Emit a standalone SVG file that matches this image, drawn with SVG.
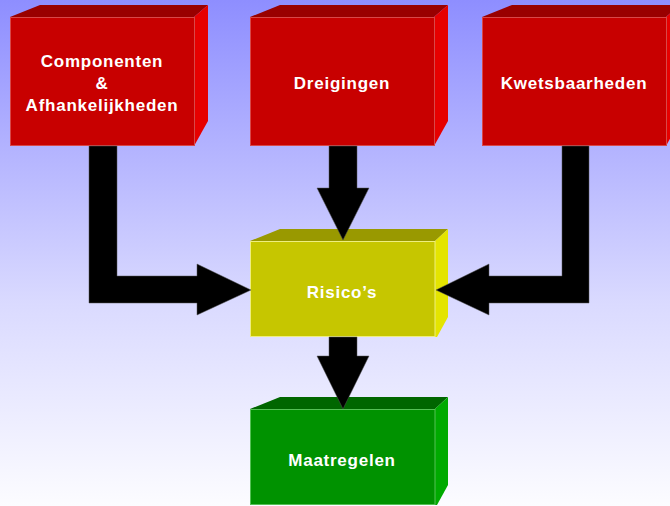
<svg xmlns="http://www.w3.org/2000/svg" width="670" height="506" viewBox="0 0 670 506">
  <defs>
    <linearGradient id="bg" x1="0" y1="0" x2="0" y2="1">
      <stop offset="0" stop-color="#8e8eff"/>
      <stop offset="0.6" stop-color="#dadaff"/>
      <stop offset="1" stop-color="#fcfcff"/>
    </linearGradient>
  </defs>
  <style>
    .lbl { font-family: "Liberation Sans", Arial, sans-serif; font-weight: bold; font-size: 17px; letter-spacing: 0.75px; fill: #ffffff; text-anchor: middle; }
    .red .front { fill: #c80000; stroke: #d84848; stroke-width: 1; }
    .red .top { fill: #990000; }
    .red .side { fill: #e60000; }
    .yel .front { fill: #c6c600; stroke: #eeee80; stroke-width: 1; }
    .yel .top { fill: #999900; }
    .yel .side { fill: #e4e400; }
    .grn .front { fill: #009200; stroke: #55c055; stroke-width: 1; }
    .grn .top { fill: #006600; }
    .grn .side { fill: #00aa00; }
    .arrow { fill: #000000; stroke: #555555; stroke-width: 0.5; }
  </style>

  <rect x="0" y="0" width="670" height="506" fill="url(#bg)"/>

  <!-- Top row -->
  <g id="componenten" class="red">
    <polygon class="top" points="10,17 40,5 208,5 194,17"/>
    <polygon class="side" points="194,17 208,5 208,121 194,146"/>
    <rect class="front" x="10.5" y="17.5" width="184" height="128"/>
    <text class="lbl" x="102" y="67">Componenten</text>
    <text class="lbl" x="102" y="89">&amp;</text>
    <text class="lbl" x="102" y="111">Afhankelijkheden</text>
  </g>

  <g id="dreigingen" class="red">
    <polygon class="top" points="250,17 280,5 448,5 434,17"/>
    <polygon class="side" points="434,17 448,5 448,121 434,146"/>
    <rect class="front" x="250.5" y="17.5" width="184" height="128"/>
    <text class="lbl" x="342" y="89">Dreigingen</text>
  </g>

  <g id="kwetsbaarheden" class="red">
    <polygon class="top" points="482,17 512,5 680,5 666,17"/>
    <polygon class="side" points="666,17 680,5 680,121 666,146"/>
    <rect class="front" x="482.5" y="17.5" width="184" height="128"/>
    <text class="lbl" x="574" y="89">Kwetsbaarheden</text>
  </g>

  <!-- Middle -->
  <g id="risicos" class="yel">
    <polygon class="top" points="250,241 280,229 448,229 435,241"/>
    <polygon class="side" points="435,241 448,229 448,317 437,337 435,337"/>
    <rect class="front" x="250.5" y="241.5" width="184.5" height="95"/>
    <text class="lbl" x="342" y="298">Risico’s</text>
  </g>

  <!-- Bottom -->
  <g id="maatregelen" class="grn">
    <polygon class="top" points="250,409 280,397 448,397 435,409"/>
    <polygon class="side" points="435,409 448,397 448,485 437,505 435,505"/>
    <rect class="front" x="250.5" y="409.5" width="184.5" height="95"/>
    <text class="lbl" x="342" y="466">Maatregelen</text>
  </g>

  <!-- Connectors -->
  <g id="connectors">
    <polygon class="arrow" points="89,146 117,146 117,276 197,276 197,264 251,290 197,315 197,303 89,303"/>
    <polygon class="arrow" points="562,146 589,146 589,303 489,303 489,315 436,290 489,264 489,276 562,276"/>
    <polygon class="arrow" points="329,146 357,146 357,188 369,188 343,240 317,188 329,188"/>
    <polygon class="arrow" points="329,337 357,337 357,356 369,356 343,409 317,356 329,356"/>
  </g>
</svg>
